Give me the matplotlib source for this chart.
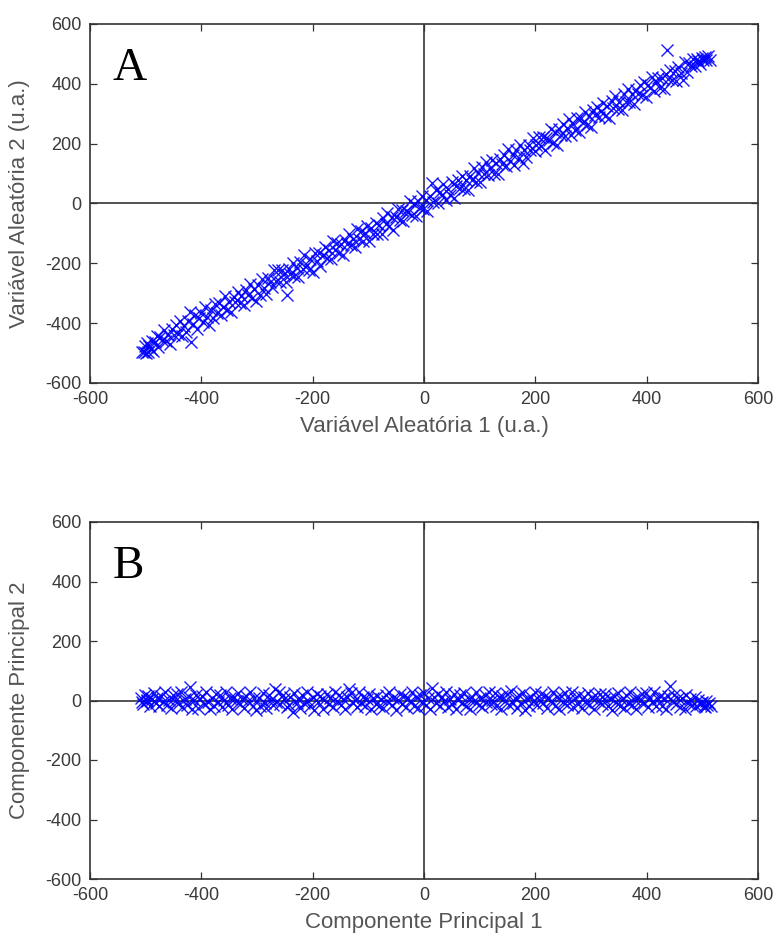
import matplotlib
matplotlib.use("Agg")
import matplotlib.pyplot as plt

plt.rcParams['font.family'] = ['Liberation Sans', 'DejaVu Sans']
plt.rcParams['axes.unicode_minus'] = False

# ---- Panel A data: Variável Aleatória 1 vs 2 ----
xA = [-506,-502,-499,-497,-494,-491,-489,-486,-483,-480,
      -477,-474,-470,-467,-463,-460,-456,-452,-449,-445,
      -442,-438,-435,-431,-427,-424,-420,-418,-415,-411,
      -407,-404,-400,-397,-393,-389,-386,-382,-379,-375,
      -372,-368,-364,-361,-357,-353,-350,-346,-342,-339,
      -335,-331,-328,-324,-320,-317,-313,-309,-306,-302,
      -298,-295,-291,-287,-284,-280,-276,-273,-269,-266,
      -262,-259,-255,-252,-248,-246,-243,-240,-236,-233,
      -229,-226,-222,-218,-215,-211,-207,-204,-200,-196,
      -193,-189,-186,-182,-178,-175,-171,-167,-164,-160,
      -157,-153,-149,-146,-142,-138,-135,-131,-127,-124,
      -120,-117,-113,-109,-106,-102,-98,-95,-91,-87,
      -84,-80,-76,-73,-69,-66,-62,-58,-55,-51,
      -47,-44,-40,-37,-33,-29,-26,-22,-18,-15,
      -11,-8,-4,-1,3,6,10,14,17,21,
      25,28,32,35,39,43,46,50,54,57,
      61,64,68,72,75,79,82,86,90,93,
      97,101,104,108,111,115,119,122,126,130,
      133,137,140,144,148,151,155,159,162,166,
      170,173,177,180,184,188,191,195,199,202,
      206,210,213,217,220,224,228,231,235,239,
      242,246,249,253,257,260,264,268,271,275,
      279,282,286,289,293,297,300,304,308,311,
      315,318,322,326,329,333,337,340,344,348,
      351,355,359,362,366,369,373,377,380,384,
      388,391,395,398,402,406,409,413,417,420,
      424,428,431,435,437,439,442,446,450,453,
      457,461,465,468,472,476,479,483,487,490,
      493,496,499,502,504,507,510,513,-503,-495]
yA = [-496,-477,-499,-465,-477,-486,-461,-492,-462,-443,
      -480,-445,-456,-423,-458,-439,-468,-419,-439,-407,
      -436,-392,-444,-408,-428,-393,-363,-463,-403,-373,
      -419,-384,-366,-396,-347,-379,-405,-356,-384,-335,
      -366,-333,-373,-345,-310,-356,-328,-362,-313,-329,
      -296,-331,-310,-338,-290,-306,-270,-317,-285,-325,
      -274,-305,-251,-284,-303,-249,-262,-278,-223,-260,
      -222,-263,-223,-234,-263,-306,-218,-236,-199,-242,
      -214,-245,-194,-219,-173,-206,-221,-184,-228,-164,
      -192,-164,-209,-171,-145,-183,-154,-184,-125,-156,
      -131,-165,-136,-173,-122,-137,-103,-138,-120,-145,
      -84,-120,-93,-126,-97,-74,-124,-82,-101,-66,
      -101,-71,-101,-48,-70,-33,-76,-45,-88,-46,
      -20,-55,-21,-60,-24,-30,7,-40,-3,-43,
      9,-14,24,-18,12,-24,25,69,6,44,
      2,39,27,64,11,48,30,73,19,58,
      78,52,93,49,78,45,93,80,119,73,
      101,72,122,98,138,96,117,144,100,137,
      98,149,132,162,124,181,141,163,129,180,
      151,194,135,179,155,195,179,219,174,196,
      222,192,222,179,220,212,249,202,238,196,
      248,229,266,225,251,283,229,267,247,286,
      240,285,270,306,264,293,256,311,295,324,
      288,310,335,291,327,285,342,320,360,315,
      340,314,365,339,384,338,365,332,380,366,
      396,363,407,357,396,385,424,376,406,420,
      385,419,383,434,513,417,446,413,442,409,
      457,437,413,474,441,471,458,484,459,482,
      476,466,487,478,490,480,492,480,-498,-497]

# ---- Panel B data: Componente Principal 1 vs 2 ----
xB = [-508,-504,-501,-498,-495,-492,-489,-485,-482,-479,
      -476,-472,-469,-465,-462,-458,-455,-451,-448,-444,
      -441,-437,-434,-430,-426,-423,-420,-417,-413,-410,
      -406,-403,-399,-395,-392,-388,-385,-381,-377,-374,
      -370,-367,-363,-359,-356,-352,-349,-345,-341,-338,
      -334,-330,-327,-323,-319,-316,-312,-308,-305,-301,
      -297,-294,-290,-286,-283,-279,-275,-272,-268,-265,
      -261,-258,-254,-251,-247,-243,-240,-236,-233,-229,
      -226,-222,-219,-215,-211,-208,-204,-200,-197,-193,
      -190,-186,-182,-179,-175,-171,-168,-164,-160,-157,
      -153,-150,-146,-142,-139,-135,-131,-128,-124,-120,
      -117,-113,-109,-106,-102,-98,-95,-91,-87,-84,
      -80,-77,-73,-69,-66,-62,-58,-55,-51,-47,
      -44,-40,-36,-33,-29,-26,-22,-18,-15,-11,
      -7,-4,0,3,7,11,14,18,21,25,
      29,32,36,40,43,47,51,54,58,61,
      65,69,72,76,80,83,87,90,94,98,
      101,105,109,112,116,120,123,127,130,134,
      138,141,145,149,152,156,160,163,167,170,
      174,178,181,185,189,192,196,199,203,207,
      210,214,218,221,225,228,232,236,239,243,
      247,250,254,257,261,265,268,272,276,279,
      283,287,290,294,297,301,305,308,312,316,
      319,323,326,330,334,337,341,345,348,352,
      355,359,363,366,370,374,377,381,384,388,
      392,395,399,403,406,410,413,417,421,424,
      428,431,435,439,442,446,449,453,457,460,
      464,468,471,475,478,482,486,489,493,496,
      500,503,506,509,512,515,-506,-497,505,498]
yB = [8,-12,20,-3,14,-18,5,25,-9,10,
      -20,15,-5,28,-14,3,-26,18,-2,22,
      -8,30,-22,6,-16,12,45,-30,2,20,
      -25,4,16,-12,27,-4,-28,9,-18,23,
      -6,18,-21,1,30,-15,7,-27,13,-3,
      24,-11,4,-24,15,-1,28,-17,8,-31,
      10,-20,26,-7,-26,18,3,-14,38,-4,
      30,-12,20,6,-22,-16,12,-40,25,-8,
      5,-25,17,-9,29,-2,-20,11,-32,21,
      -6,15,-27,3,23,-13,9,-21,28,-1,
      18,-16,6,-29,12,40,24,-10,2,-23,
      27,-7,13,-19,4,21,-27,8,-12,16,
      -18,5,-25,19,-3,27,-14,10,-31,2,
      22,-11,15,-21,7,-2,29,-17,12,-26,
      18,-5,25,-15,8,-27,42,13,-9,21,
      -20,11,-3,27,-23,6,-12,22,-29,3,
      17,-8,25,-18,5,-28,12,-2,30,-14,
      7,-22,20,-5,28,-12,3,24,-19,11,
      -27,15,-1,21,-16,32,-7,9,-24,19,
      -10,25,-31,5,-19,13,-3,28,-15,2,
      21,-9,16,-26,8,-2,27,-18,11,-29,
      14,-6,24,-16,4,29,-22,9,-11,19,
      -25,12,-4,26,-15,7,-28,17,-1,22,
      -12,4,23,-20,10,-31,16,-5,26,-17,
      2,-24,18,-8,29,-14,6,-27,13,-3,
      21,-10,25,-22,9,-4,27,-18,5,15,
      -19,7,-27,14,50,-3,19,-13,8,-23,
      10,-30,18,-9,4,-14,12,-20,2,-12,
      -6,-18,-3,-14,-10,-17,-4,2,-22,-8]

ticks = [-600, -400, -200, 0, 200, 400, 600]
panels = [
    dict(x=xA, y=yA, letter="A", xlabel="Variável Aleatória 1 (u.a.)",
         ylabel="Variável Aleatória 2 (u.a.)"),
    dict(x=xB, y=yB, letter="B", xlabel="Componente Principal 1",
         ylabel="Componente Principal 2"),
]

W, H = 775, 939
fig = plt.figure(figsize=(W / 100, H / 100), dpi=100)

boxes = [(90, 24, 758, 383), (90, 522, 758, 879)]
xlab_top = [416, 912]
txtcol = '#3a3a3a'
for p, (l, t, r, b), xly in zip(panels, boxes, xlab_top):
    ax = fig.add_axes([l / W, 1 - b / H, (r - l) / W, (b - t) / H])
    ax.axhline(0, color='#222222', lw=1.1, zorder=1)
    ax.axvline(0, color='#222222', lw=1.1, zorder=1)
    ax.plot(p['x'], p['y'], linestyle='none', marker='x', color='#0000ff',
            markersize=8, markeredgewidth=1.0, alpha=0.9, zorder=2)
    ax.set_xlim(-600, 600)
    ax.set_ylim(-600, 600)
    ax.set_xticks(ticks)
    ax.set_yticks(ticks)
    ax.tick_params(direction='in', length=5, width=0.9, colors='#333333',
                   labelcolor=txtcol, labelsize=13, top=True, right=True)
    ax.tick_params(axis='x', pad=6)
    ax.tick_params(axis='y', pad=6)
    for s in ax.spines.values():
        s.set_color('#333333')
        s.set_linewidth(1.2)
    ax.text(-560, 412, p['letter'], family=['Liberation Serif', 'DejaVu Serif'],
            fontsize=34, color='black', va='baseline', ha='left')
    fig.text((l + r) / 2 / W, 1 - xly / H, p['xlabel'], ha='center', va='top',
             fontsize=16, color='#555555')
    fig.text(20 / W, 1 - (t + b) / 2 / H, p['ylabel'], ha='center', va='center',
             rotation=90, fontsize=16, color='#555555')

fig.savefig('out.png', dpi=100)
